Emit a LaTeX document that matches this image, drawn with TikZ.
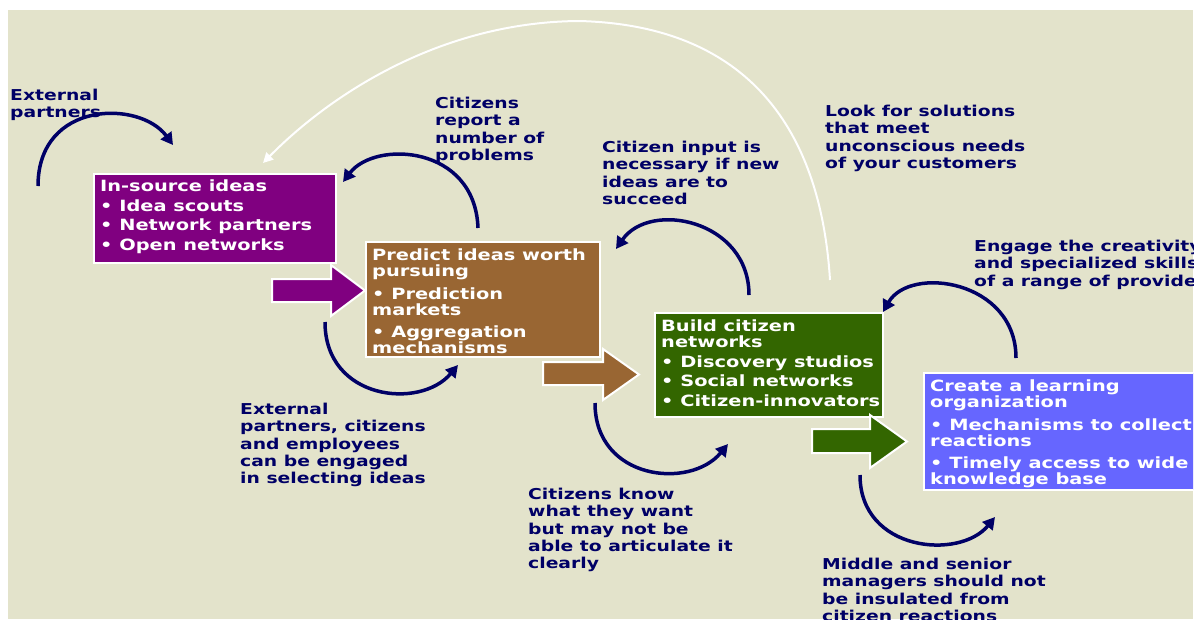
\documentclass[tikz,border=0pt]{standalone}
\usepackage{fontspec}
\newfontfamily\vfont{DejaVu Sans}[FakeStretch=1.25]
\usetikzlibrary{arrows.meta}
\definecolor{bg}{RGB}{227,227,203}
\definecolor{navy}{RGB}{0,0,102}
\definecolor{boxpurple}{RGB}{128,0,128}
\definecolor{boxbrown}{RGB}{153,102,51}
\definecolor{boxgreen}{RGB}{51,102,0}
\definecolor{boxblue}{RGB}{102,102,255}

\begin{document}
\begin{tikzpicture}[x=1pt,y=1pt,
  stage/.style={draw=white, line width=2pt, anchor=north west, inner sep=0pt},
  stagetext/.style={anchor=north west, inner sep=0pt, align=left, text=white,
    font=\vfont\bfseries\fontsize{15.5}{16}\selectfont},
  note/.style={anchor=north west, inner sep=0pt, align=left, text=navy,
    font=\vfont\bfseries\fontsize{15}{17.3}\selectfont},
  loop/.style={draw=navy, line width=3.5pt, -{Triangle[length=12pt,width=13pt]}},
  backloop/.style={draw=white, line width=2pt, -{Triangle[length=10pt,width=10pt]}},
  blockarrow/.style={draw=white, line width=2pt, line join=miter},
]
\useasboundingbox (0,0) rectangle (1200,-619);
\fill[white] (0,0) rectangle (1200,-619);
\begin{scope}
\clip (8,-10) rectangle (1193,-619);
\fill[bg] (8,-10) rectangle (1193,-619);

% stage boxes
\node[stage, fill=boxpurple, minimum width=242pt, minimum height=89pt] (b1) at (93,-173) {};
\node[stage, fill=boxbrown, minimum width=234pt, minimum height=115pt] (b2) at (365,-241) {};
\node[stage, fill=boxgreen, minimum width=228pt, minimum height=104pt] (b3) at (654,-312) {};
\node[stage, fill=boxblue, minimum width=290pt, minimum height=117pt] (b4) at (923,-372) {};

\node[stagetext] (t1) at (100,-180) {In-source ideas\\[3.5pt]• Idea scouts\\[3.5pt]• Network partners\\[3.5pt]• Open networks};
\node[stagetext] (t2) at (372,-249) {Predict ideas worth\\pursuing\\[6.5pt]• Prediction\\markets\\[6.5pt]• Aggregation\\mechanisms};
\node[stagetext] (t3) at (661,-320) {Build citizen\\networks\\[3.5pt]• Discovery studios\\[3.5pt]• Social networks\\[3.5pt]• Citizen-innovators};
\node[stagetext] (t4) at (930,-380) {Create a learning\\organization\\[6.5pt]• Mechanisms to collect\\reactions\\[6.5pt]• Timely access to wide\\knowledge base};

% block arrows between stages
\filldraw[blockarrow, fill=boxpurple] (272,-279) -- (331,-279) -- (331,-265) -- (b2.west |- 0,-290.5) -- (331,-316) -- (331,-302) -- (272,-302) -- cycle;
\filldraw[blockarrow, fill=boxbrown] (543,-362) -- (603,-362) -- (603,-349) -- (639,-374.5) -- (603,-400) -- (603,-385) -- (543,-385) -- cycle;
\filldraw[blockarrow, fill=boxgreen] (812,-429) -- (870,-429) -- (870,-415) -- (907,-441.5) -- (870,-468) -- (870,-453) -- (812,-453) -- cycle;

% annotations
\node[note] (n1) at (10,-89) {External\\partners};
\node[note] (n2) at (435,-97) {Citizens\\report a\\number of\\problems};
\node[note] (n3) at (602,-141) {Citizen input is\\necessary if new\\ideas are to\\succeed};
\node[note] (n4) at (825,-105) {Look for solutions\\that meet\\unconscious needs\\of your customers};
\node[note] (n5) at (974,-240) {Engage the creativity\\and specialized skills\\of a range of providers};
\node[note] (n6) at (240,-403) {External\\partners, citizens\\and employees\\can be engaged\\in selecting ideas};
\node[note] (n7) at (528,-488) {Citizens know\\what they want\\but may not be\\able to articulate it\\clearly};
\node[note] (n8) at (822,-558) {Middle and senior\\managers should not\\be insulated from\\citizen reactions};

% loop arrows
\coordinate (l1s) at (38,-186);   \coordinate (l1e) at (173,-145);
\coordinate (l2s) at (478,-228);  \coordinate (l2e) at (343,-182);
\coordinate (l3s) at (749,-295);  \coordinate (l3e) at (616,-249);
\coordinate (l4s) at (1016,-358); \coordinate (l4e) at (883,-312);
\coordinate (l5s) at (325,-322);  \coordinate (l5e) at (458,-365);
\coordinate (l6s) at (595,-403);  \coordinate (l6e) at (728,-444);
\coordinate (l7s) at (860,-475);  \coordinate (l7e) at (995,-517);
\draw[loop] (l1s) .. controls (38,-100) and (140,-100) .. (l1e);
\draw[loop] (l2s) .. controls (475,-145) and (375,-140) .. (l2e);
\draw[loop] (l3s) .. controls (749,-220) and (650,-200) .. (l3e);
\draw[loop] (l4s) .. controls (1016,-280) and (910,-265) .. (l4e);
\draw[loop] (l5s) .. controls (325,-400) and (420,-410) .. (l5e);
\draw[loop] (l6s) .. controls (595,-480) and (690,-490) .. (l6e);
\draw[loop] (l7s) .. controls (860,-552) and (960,-560) .. (l7e);

% long feedback arc back to the first stage
\coordinate (fbs) at (830,-280);
\coordinate (fbt) at (579,-21);
\coordinate (fbe) at (263,-163);
\draw[backloop] (fbs) .. controls (820,-120) and (740,-25) .. (fbt)
  .. controls (440,-22) and (330,-95) .. (fbe);
\end{scope}
\end{tikzpicture}
\end{document}
